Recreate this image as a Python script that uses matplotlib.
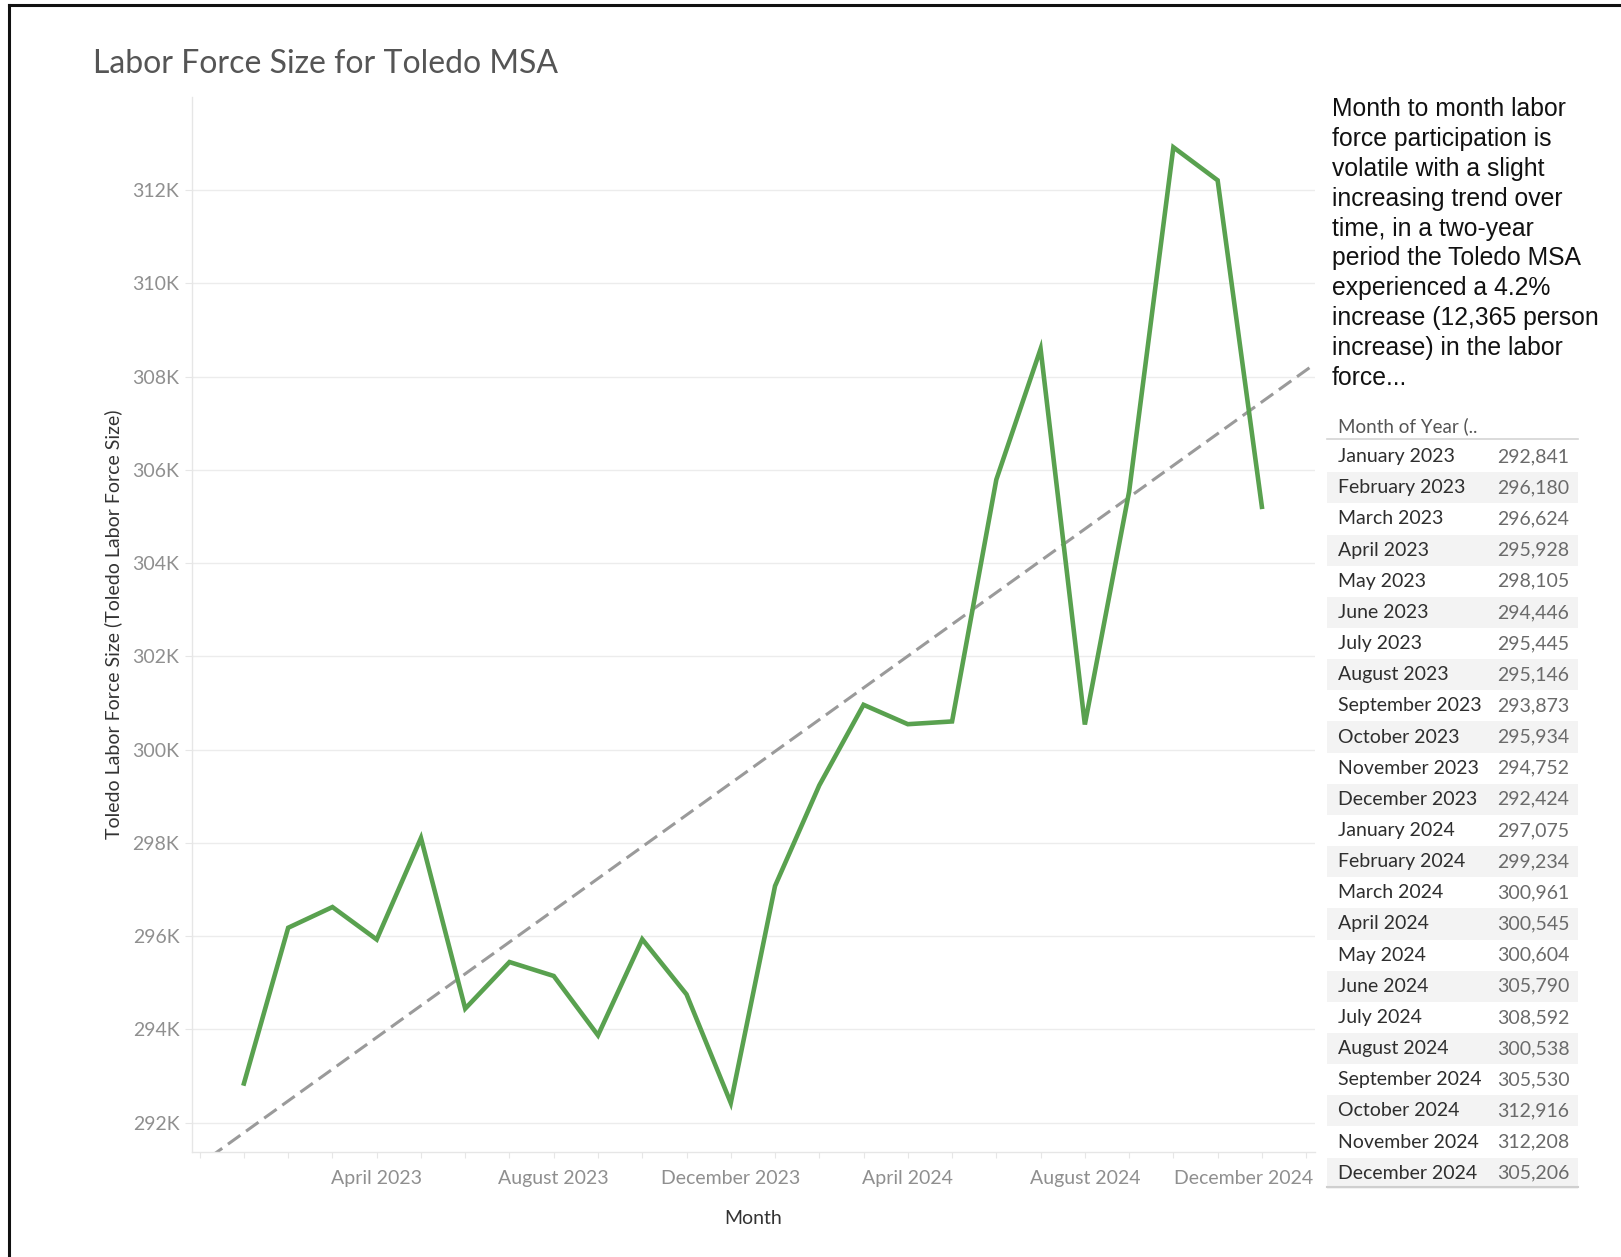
import matplotlib
matplotlib.use("Agg")
import matplotlib.pyplot as plt
from matplotlib.lines import Line2D
from matplotlib.patches import Rectangle
from matplotlib.transforms import ScaledTranslation
import numpy as np

plt.rcParams["font.family"] = "Lato"

W, H = 1621, 1257

months = ["January 2023", "February 2023", "March 2023", "April 2023", "May 2023",
          "June 2023", "July 2023", "August 2023", "September 2023", "October 2023",
          "November 2023", "December 2023", "January 2024", "February 2024",
          "March 2024", "April 2024", "May 2024", "June 2024", "July 2024",
          "August 2024", "September 2024", "October 2024", "November 2024",
          "December 2024"]
labor_force = [292841, 296180, 296624, 295928, 298105, 294446, 295445, 295146,
               293873, 295934, 294752, 292424, 297075, 299234, 300961, 300545,
               300604, 305790, 308592, 300538, 305530, 312916, 312208, 305206]
xtick_labels = ["April 2023", "August 2023", "December 2023",
                "April 2024", "August 2024", "December 2024"]
ytick_values = list(range(292000, 312001, 2000))

note = ("Month to month labor\nforce participation is\nvolatile with a slight\n"
        "increasing trend over\ntime, in a two-year\nperiod the Toledo MSA\n"
        "experienced a 4.2%\nincrease (12,365 person\nincrease) in the labor\nforce...")


def px(x, y):
    # pixel position -> figure fraction
    return x / W, 1 - y / H


fig = plt.figure(figsize=(W / 100, H / 100), dpi=100)
ax = fig.add_axes([191.7 / W, 1 - 1151.7 / H, (1315 - 191.7) / W, (1151.7 - 97) / H])

x = np.arange(len(months))
ax.plot(x, labor_force, color="#59a14f", lw=3.3, solid_joinstyle="miter", zorder=3)

# linear trend line across the whole axis
slope, icpt = np.polyfit(x, labor_force, 1)
xlim = (-1.18, 24.2)
xt = np.array(xlim)
ax.plot(xt, slope * xt + icpt, color="#9a9a9a", lw=2.2, dashes=(5, 2.3), zorder=2)

ax.set_xlim(*xlim)
ax.set_ylim(291378, 313994)

# ticks
ax.set_yticks(ytick_values)
ax.set_yticklabels([f"{v // 1000}K" for v in ytick_values])
tick_pos = np.arange(-1, 25)
ax.set_xticks(tick_pos)
lab_map = {months.index(m): m for m in xtick_labels}
ax.set_xticklabels([lab_map.get(int(p), "") for p in tick_pos])
ax.tick_params(axis="y", length=5.3, width=0.8, color="#e6e6e6", pad=3.6,
               labelsize=14, labelcolor="#8f8f8f")
ax.tick_params(axis="x", length=4.3, width=0.8, color="#e6e6e6", pad=9,
               labelsize=14, labelcolor="#8f8f8f")
# last label is pulled left so it stays inside the plot width
last = ax.get_xticklabels()[list(tick_pos).index(months.index("December 2024"))]
last.set_transform(last.get_transform() + ScaledTranslation(-0.18, 0, fig.dpi_scale_trans))

ax.grid(axis="y", color="#ececec", lw=1.0)
ax.set_axisbelow(True)
for s in ["top", "right"]:
    ax.spines[s].set_visible(False)
for s in ["left", "bottom"]:
    ax.spines[s].set_color("#e6e6e6")
    ax.spines[s].set_linewidth(1.0)

ax.set_ylabel("Toledo Labor Force Size (Toledo Labor Force Size)", fontsize=14, color="#333333")
ax.yaxis.set_label_coords(-0.062, 0.5)
ax.set_xlabel("Month", fontsize=14, color="#333333")
ax.xaxis.set_label_coords(0.5, -0.055)

# title
fig.text(*px(93, 64), "Labor Force Size for Toledo MSA", fontsize=23, color="#555555",
         ha="left", va="center")

# commentary
fig.text(*px(1332, 97), note, family="Liberation Sans", fontsize=17.8, color="#111111",
         ha="left", va="top", linespacing=1.31)

# table on the right
tx0, tx1 = 1327, 1578
fig.text(*px(1337.7, 426.7), "Month of Year (..", fontsize=13.5, color="#555555",
         ha="left", va="center")
fig.add_artist(Line2D([tx0 / W, tx1 / W], [1 - 439.3 / H] * 2, color="#d4d4d4", lw=1.2))
row_h = 31.15
for i, (m, v) in enumerate(zip(months, labor_force)):
    cy = 456.7 + i * row_h
    if i % 2 == 1:
        fig.add_artist(Rectangle(px(tx0, cy + row_h / 2), (tx1 - tx0) / W, row_h / H,
                                 transform=fig.transFigure, facecolor="#f3f3f3",
                                 edgecolor="none", zorder=0))
    fig.text(*px(1337.7, cy), m, fontsize=14, color="#2e2e2e", ha="left", va="center")
    fig.text(*px(1569.3, cy), f"{v:,}", fontsize=14, color="#6a6a6a", ha="right", va="center")
fig.add_artist(Line2D([tx0 / W, tx1 / W], [1 - 1187.3 / H] * 2, color="#cfcfcf", lw=1.5))

# outer black frame (top and left edges)
fig.add_artist(Line2D([9 / W, 9 / W], [0, 1 - 5 / H], color="#111111", lw=2.2))
fig.add_artist(Line2D([9 / W, 1], [1 - 5 / H] * 2, color="#111111", lw=2.2))

fig.savefig("out.png", dpi=100)
